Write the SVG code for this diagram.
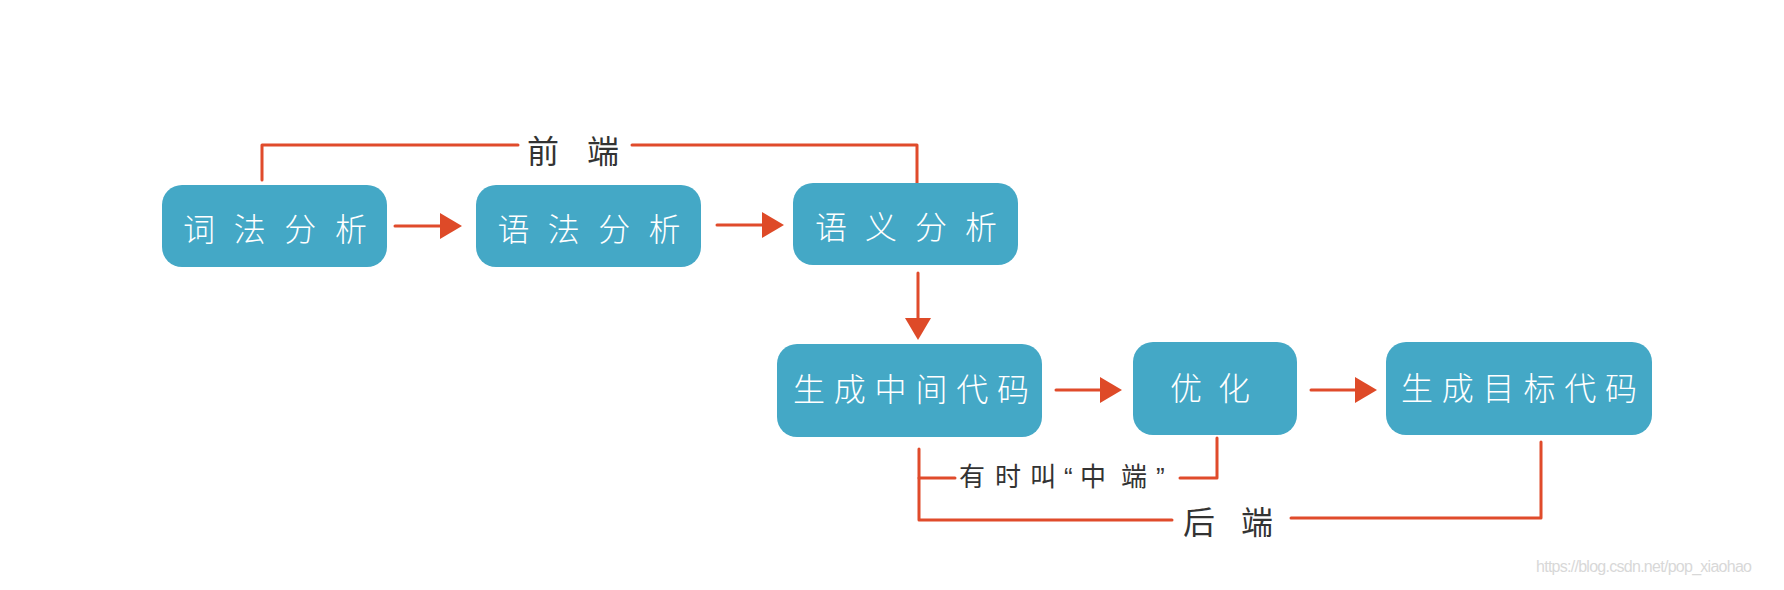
<svg xmlns="http://www.w3.org/2000/svg" width="1784" height="590" viewBox="0 0 1784 590">
<defs>
<style>
.box{fill:#44a8c6;}
.bt{font-family:"Noto Sans CJK SC","Noto Sans",sans-serif;font-size:32px;font-weight:300;fill:#ffffff;text-anchor:middle;}
.lbl{font-family:"Liberation Sans","Noto Sans CJK SC",sans-serif;fill:#333333;text-anchor:middle;}
.ln{fill:none;stroke:#e04b2b;stroke-width:3;stroke-linecap:round;stroke-linejoin:round;}
.ah{fill:#de4a28;}
</style>
</defs>
<rect width="1784" height="590" fill="#ffffff"/>
<g id="connectors">
<path class="ln" d="M262,180 V145 H518"/>
<path class="ln" d="M632,145 H917 V183"/>
<path class="ln" d="M395,226 H442"/>
<polygon class="ah" points="440,213 462,226 440,239"/>
<path class="ln" d="M717,225 H764"/>
<polygon class="ah" points="762,212 784,225 762,238"/>
<path class="ln" d="M918,273 V320"/>
<polygon class="ah" points="905,318 931,318 918,340"/>
<path class="ln" d="M1056,390 H1102"/>
<polygon class="ah" points="1100,377 1122,390 1100,403"/>
<path class="ln" d="M1311,390 H1357"/>
<polygon class="ah" points="1355,377 1377,390 1355,403"/>
<path class="ln" d="M919,449 V520 H1172"/>
<path class="ln" d="M919,478 H955"/>
<path class="ln" d="M1180,478 H1217 V438"/>
<path class="ln" d="M1291,518 H1541 V442"/>
<text class="lbl" x="573" y="163" font-size="32" textLength="92">前端</text>
<text class="lbl" y="486" font-size="26" style="text-anchor:start"><tspan x="959">有</tspan><tspan x="995">时</tspan><tspan x="1030">叫</tspan><tspan x="1064">“</tspan><tspan x="1080">中</tspan><tspan x="1121">端</tspan><tspan x="1156">”</tspan></text>
<text class="lbl" x="1228" y="534" font-size="32" textLength="90">后端</text>
</g>
<g id="n1"><rect class="box" x="162" y="185" width="225" height="82" rx="20"/><text class="bt" x="275" y="241" textLength="184">词法分析</text></g>
<g id="n2"><rect class="box" x="476" y="185" width="225" height="82" rx="20"/><text class="bt" x="589" y="241" textLength="183">语法分析</text></g>
<g id="n3"><rect class="box" x="793" y="183" width="225" height="82" rx="20"/><text class="bt" x="906" y="239" textLength="182">语义分析</text></g>
<g id="n4"><rect class="box" x="777" y="344" width="265" height="93" rx="20"/><text class="bt" x="911" y="401" textLength="236">生成中间代码</text></g>
<g id="n5"><rect class="box" x="1133" y="342" width="164" height="93" rx="20"/><text class="bt" x="1210" y="400" textLength="80">优化</text></g>
<g id="n6"><rect class="box" x="1386" y="342" width="266" height="93" rx="20"/><text class="bt" x="1519" y="400" textLength="236">生成目标代码</text></g>
<text x="1752" y="572" font-family="Liberation Sans, Arial, sans-serif" font-size="16" fill="#d8d8d8" text-anchor="end" textLength="216">https://blog.csdn.net/pop_xiaohao</text>
</svg>
